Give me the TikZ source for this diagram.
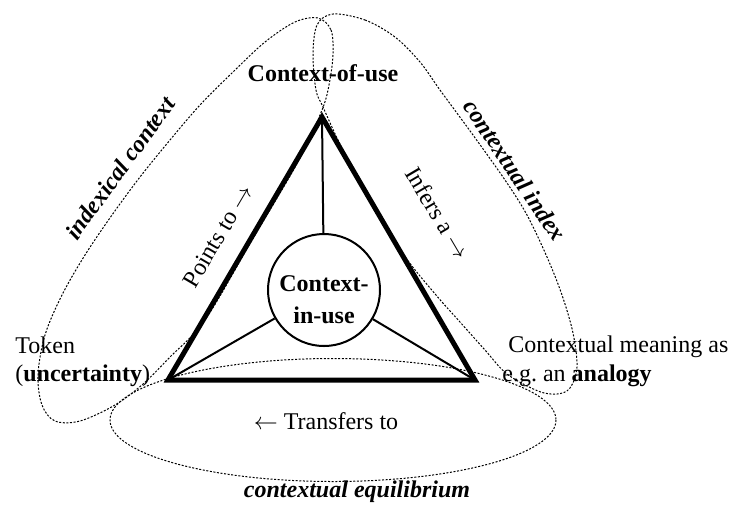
\documentclass[tikz,border=0pt]{standalone}
\usepackage{fontspec}
\setmainfont{Liberation Serif}
\begin{document}
\begin{tikzpicture}[x=0.5pt,y=-0.5pt,
  txt/.style={font=\fontsize{12}{14}\selectfont, inner sep=0pt},
  btxt/.style={font=\fontsize{12}{14}\selectfont\bfseries, inner sep=0pt},
  itxt/.style={font=\fontsize{12}{14}\selectfont\bfseries\itshape, inner sep=0pt},
  tri/.style={line width=2.5pt, line join=miter},
  spoke/.style={line width=1pt},
  hub/.style={circle, draw, line width=1pt, minimum size=56pt, inner sep=0pt},
  zone/.style={line width=0.5pt, dash pattern=on 1pt off 0.8pt}
]
\useasboundingbox (0,0) rectangle (729,511);

% triangle corners
\coordinate (top) at (322,117);
\coordinate (bl) at (168,380);
\coordinate (br) at (475,380);

% central circle
\node[hub] (hub) at (324,290) {};
\node[btxt, align=center, font=\fontsize{12}{16}\selectfont\bfseries] (hubtext) at (324,300) {Context-\\in-use};

% spokes from corners to the circle
\draw[spoke] (top) -- (hub);
\draw[spoke] (bl) -- (hub);
\draw[spoke] (br) -- (hub);

% outer triangle
\draw[tri] (top) -- (bl) -- (br) -- cycle;

% dotted zones: left loop, right loop, bottom ellipse
\draw[zone] plot[smooth cycle, tension=0.55] coordinates {
  (318,18) (331,30) (333,55) (329,85) (322,110) (299,160) (252,240) (205,320)
  (170,357) (143,384) (115,405) (80,421) (55,421) (42,405) (38,375) (45,335)
  (62,295) (85,255) (112,215) (140,177) (170,140) (200,105) (233,72) (265,42)
  (295,22)};
\draw[zone] plot[smooth cycle, tension=0.55] coordinates {
  (333,14) (365,20) (395,37) (420,62) (440,90) (473,135) (505,180) (527,215)
  (547,257) (562,295) (573,333) (577,367) (570,388) (557,394) (538,391)
  (507,374) (485,350) (460,322) (436,295) (404,255) (372,200) (343,150)
  (323,107) (316,90) (313,55) (317,25)};
\coordinate (bc) at (333,420);
\draw[zone] (bc) ellipse [x radius=223, y radius=61.5];

% corner labels
\node[btxt] (cou) at (323,73) {Context-of-use};
\node[txt, anchor=base west] (tok1) at (15,353) {Token};
\node[txt, anchor=base west] (tok2) at (15,381) {(\textbf{uncertainty})};
\node[txt, anchor=base west] (cm1) at (508,352) {Contextual meaning as};
\node[txt, anchor=base west] (cm2) at (502,381) {e.g.\ an \textbf{analogy}};

% edge labels
\node[txt, rotate=59.5] (pts) at (218,236) {Points to $\rightarrow$};
\node[txt, rotate=-59.5] (inf) at (438,213) {Infers a $\rightarrow$};
\node[txt] (trf) at (326,421) {$\leftarrow$ Transfers to};

% zone labels
\node[itxt, rotate=54] (idx) at (120,168) {indexical context};
\node[itxt, rotate=-56] (cix) at (515,170) {contextual index};
\node[itxt] (ceq) at (357,492) {contextual equilibrium};
\end{tikzpicture}
\end{document}
